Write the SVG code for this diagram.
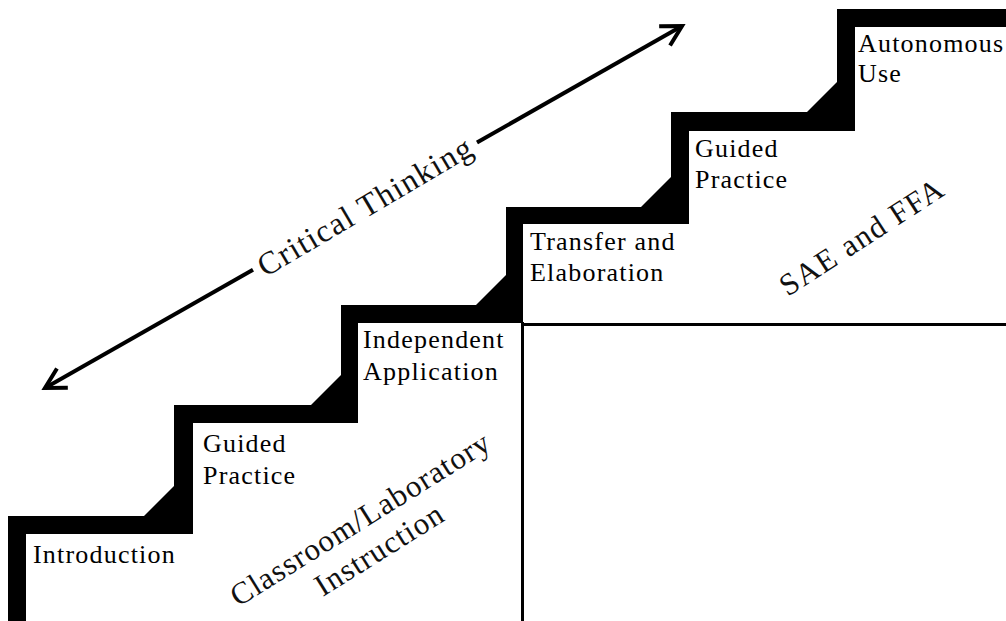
<svg xmlns="http://www.w3.org/2000/svg" width="1006" height="621" viewBox="0 0 1006 621">
  <style>
    .step { font-family: "Liberation Serif", "Times New Roman", serif; font-size: 26px; letter-spacing: 1.2px; fill: #000; }
    .zone { font-family: "Liberation Serif", "Times New Roman", serif; font-size: 31px; letter-spacing: 1.1px; fill: #111; text-anchor: middle; }
    .axis { font-family: "Liberation Serif", "Times New Roman", serif; font-size: 32px; letter-spacing: 1.4px; fill: #111; text-anchor: middle; }
    .shaft { fill: none; stroke: #000; stroke-width: 4; marker-end: url(#chevron); }
    .divider { fill: none; stroke: #000; stroke-width: 3; }
  </style>
  <defs>
    <marker id="chevron" markerUnits="userSpaceOnUse" viewBox="-26 -15 32 30" markerWidth="32" markerHeight="30" refX="0" refY="0" orient="auto" overflow="visible">
      <path d="M -20,-11 L 0,0 L -20,11" fill="none" stroke="#000" stroke-width="4" stroke-linejoin="miter"/>
    </marker>
  </defs>

  <rect width="1006" height="621" fill="#fff"/>

  <!-- staircase band with bevelled inner corners -->
  <g id="staircase">
    <polygon fill="#000" points="8,621 8,516 144,516 174,486 174,405 311,405 341,375 341,305 476,305 506,275 506,207 641,207 671,177 671,112 807,112 837,82 837,9 1006,9 1006,27 855,27 855,131 689,131 689,224 523,224 523,323 358,323 358,423 193,423 193,534 26,534 26,621"/>
  </g>

  <!-- zone dividers -->
  <g id="dividers">
    <line class="divider" x1="522.5" y1="322" x2="522.5" y2="621"/>
    <line class="divider" x1="521" y1="324.5" x2="1006" y2="324.5"/>
  </g>

  <!-- double-headed critical thinking axis -->
  <g id="connectors">
    <path class="shaft" d="M 253,269.8 L 45,388"/>
    <path class="shaft" d="M 477,142.5 L 682,26"/>
  </g>

  <g id="axis-label">
    <text class="axis" transform="translate(365,206) rotate(-30.5)" x="0" y="11">Critical Thinking</text>
  </g>

  <g id="step-introduction">
    <text class="step" x="33" y="563">Introduction</text>
  </g>
  <g id="step-guided-practice-1">
    <text class="step" x="203" y="452">Guided</text>
    <text class="step" x="203" y="484">Practice</text>
  </g>
  <g id="step-independent-application">
    <text class="step" x="363" y="348">Independent</text>
    <text class="step" x="363" y="380">Application</text>
  </g>
  <g id="step-transfer-elaboration">
    <text class="step" x="530" y="250">Transfer and</text>
    <text class="step" x="530" y="281">Elaboration</text>
  </g>
  <g id="step-guided-practice-2">
    <text class="step" x="695" y="157">Guided</text>
    <text class="step" x="695" y="188">Practice</text>
  </g>
  <g id="step-autonomous-use">
    <text class="step" x="858" y="52">Autonomous</text>
    <text class="step" x="858" y="82">Use</text>
  </g>

  <g id="zone-classroom">
    <g transform="translate(361,520) rotate(-32)">
      <text class="zone" x="0" y="9">Classroom/Laboratory</text>
      <text class="zone" x="0" y="45">Instruction</text>
    </g>
  </g>
  <g id="zone-sae-ffa">
    <text class="zone" transform="translate(862,237) rotate(-33)" x="0" y="10" style="letter-spacing:1.5px">SAE and FFA</text>
  </g>
</svg>
